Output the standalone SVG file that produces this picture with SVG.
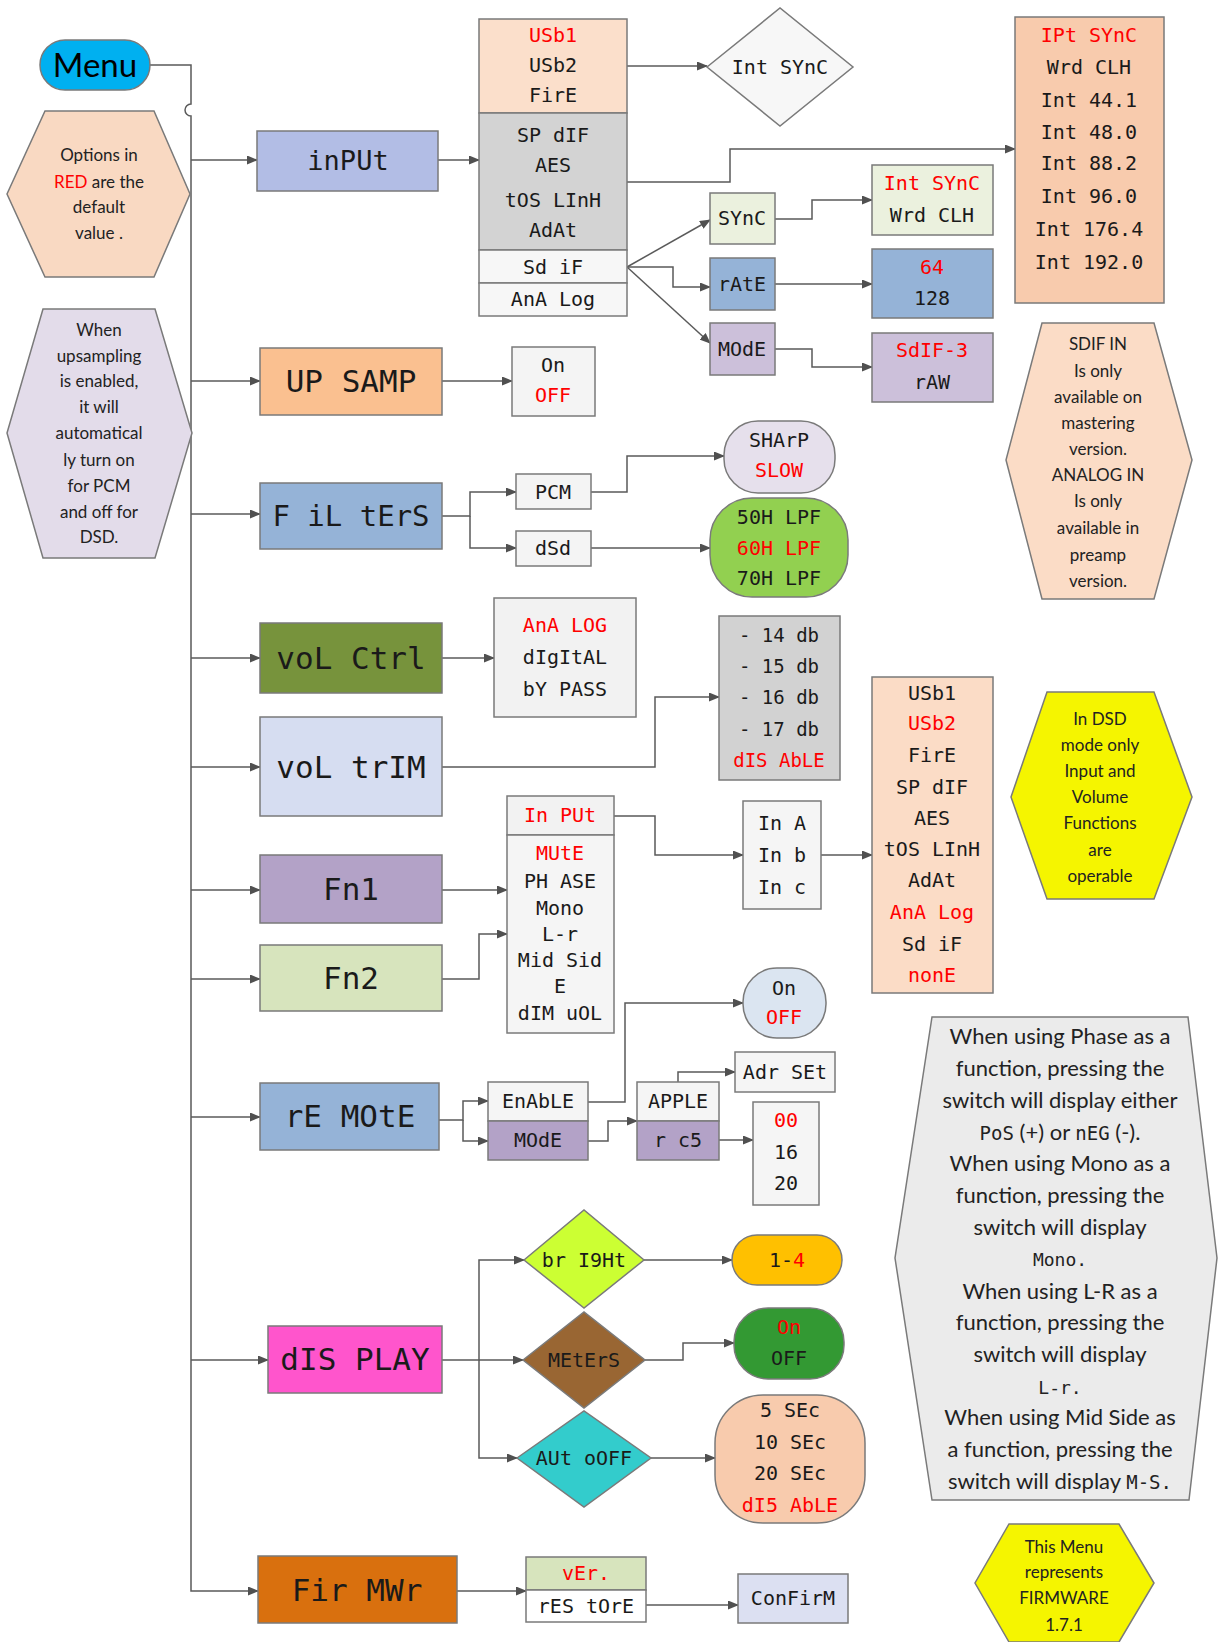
<svg xmlns="http://www.w3.org/2000/svg" width="1218" height="1642" viewBox="0 0 1218 1642">
<defs>
<marker id="ah" markerWidth="11" markerHeight="9" refX="10" refY="4.5" orient="auto" markerUnits="userSpaceOnUse"><path d="M0,0 L11,4.5 L0,9 z" fill="#505050"/></marker>
</defs>
<style>
.bx{stroke:#7a7a7a;stroke-width:1.5}
.ln{stroke:#5a5a5a;stroke-width:1.5;fill:none;marker-end:url(#ah)}
.s{font-family:"DejaVu Sans Mono",monospace;text-anchor:middle;fill:#1a1a1a}
.sm{font-size:20px}
.lg{font-size:31px}
.r{fill:#ff0000}
.n{font-family:Lato,"Open Sans",sans-serif;text-anchor:middle;fill:#222;font-size:17px}
.g{font-size:22px}
</style>
<rect width="1218" height="1642" fill="#fff"/>

<g id="connectors">
<path class="ln" d="M150,65 H191 V104 A6,6 0 0 0 191,116 V1591 H258"/>
<path class="ln" d="M191,160 H257"/>
<path class="ln" d="M191,381 H260"/>
<path class="ln" d="M191,514 H260"/>
<path class="ln" d="M191,658 H260"/>
<path class="ln" d="M191,767 H260"/>
<path class="ln" d="M191,890 H260"/>
<path class="ln" d="M191,979 H260"/>
<path class="ln" d="M191,1117 H260"/>
<path class="ln" d="M191,1360 H268"/>
<path class="ln" d="M438,160 H479"/>
<path class="ln" d="M627,66 H707"/>
<path class="ln" d="M627,182 H730 V149 H1015"/>
<path class="ln" d="M627,267 L710,220"/>
<path class="ln" d="M627,267 H673 V287 H710"/>
<path class="ln" d="M627,267 L710,343"/>
<path class="ln" d="M775,219 H812 V200 H872"/>
<path class="ln" d="M775,284 H872"/>
<path class="ln" d="M775,349 H812 V367 H872"/>
<path class="ln" d="M442,381 H512"/>
<path class="ln" d="M442,516 H470 V492 H516"/>
<path class="ln" d="M470,516 V548 H516"/>
<path class="ln" d="M591,492 H627 V456 H724"/>
<path class="ln" d="M591,548 H710"/>
<path class="ln" d="M442,658 H494"/>
<path class="ln" d="M442,767 H655 V697 H719"/>
<path class="ln" d="M442,890 H507"/>
<path class="ln" d="M442,979 H479 V934 H507"/>
<path class="ln" d="M614,816 H655 V855 H743"/>
<path class="ln" d="M821,855 H872"/>
<path class="ln" d="M439,1120 H463 V1101 H488"/>
<path class="ln" d="M463,1120 V1141 H488"/>
<path class="ln" d="M588,1102 H625 V1003 H743"/>
<path class="ln" d="M588,1141 H608 V1121 H637"/>
<path class="ln" d="M678,1082 V1072 H735"/>
<path class="ln" d="M719,1140 H753"/>
<path class="ln" d="M442,1360 H479 V1260 H524"/>
<path class="ln" d="M479,1360 H523"/>
<path class="ln" d="M479,1360 V1458 H517"/>
<path class="ln" d="M644,1260 H732"/>
<path class="ln" d="M645,1360 H683 V1343 H734"/>
<path class="ln" d="M651,1458 H715"/>
<path class="ln" d="M457,1591 H526"/>
<path class="ln" d="M646,1605 H738"/>
</g>

<g id="menu"><rect class="bx" x="40" y="40" width="110" height="50" rx="25" fill="#00b0f0"/><text x="95" y="77" font-family="Lato,'Open Sans',sans-serif" font-size="33" text-anchor="middle" fill="#000">Menu</text></g>

<g id="note-options"><polygon class="bx" points="45,111 154,111 190,194 154,277 45,277 7,194" fill="#f9d9c2"/>
<text class="n"><tspan x="99" y="161">Options in</tspan><tspan x="99" y="188"><tspan fill="#ff0000">RED</tspan> are the</tspan><tspan x="99" y="213">default</tspan><tspan x="99" y="239">value .</tspan></text></g>

<g id="note-upsampling"><polygon class="bx" points="43,309 155,309 192,433 155,558 43,558 7,433" fill="#e3dcea"/>
<text class="n"><tspan x="99" y="336">When</tspan><tspan x="99" y="362">upsampling</tspan><tspan x="99" y="387">is enabled,</tspan><tspan x="99" y="413">it will</tspan><tspan x="99" y="439">automatical</tspan><tspan x="99" y="466">ly turn on</tspan><tspan x="99" y="492">for PCM</tspan><tspan x="99" y="518">and off for</tspan><tspan x="99" y="543">DSD.</tspan></text></g>

<g id="input"><rect class="bx" x="257" y="131" width="181" height="60" fill="#b2bde5"/><text class="s" x="348" y="170" font-size="27">inPUt</text></g>

<g id="input-list">
<rect class="bx" x="479" y="19" width="148" height="94" fill="#fbdfcb"/>
<rect class="bx" x="479" y="113" width="148" height="137" fill="#d3d3d3"/>
<rect class="bx" x="479" y="250" width="148" height="33" fill="#f7f7f7"/>
<rect class="bx" x="479" y="283" width="148" height="33" fill="#f7f7f7"/>
<text class="s sm"><tspan class="r" x="553" y="42">USb1</tspan><tspan x="553" y="72">USb2</tspan><tspan x="553" y="102">FirE</tspan><tspan x="553" y="142">SP dIF</tspan><tspan x="553" y="172">AES</tspan><tspan x="553" y="207">tOS LInH</tspan><tspan x="553" y="237">AdAt</tspan><tspan x="553" y="274">Sd iF</tspan><tspan x="553" y="306">AnA Log</tspan></text>
</g>

<g id="int-sync-diamond"><polygon class="bx" points="707,67 780,8 853,67 780,126" fill="#f7f7f7"/><text class="s sm" x="780" y="74">Int SYnC</text></g>

<g id="sync-list"><rect class="bx" x="1015" y="17" width="149" height="286" fill="#f8cbad"/>
<text class="s sm"><tspan class="r" x="1089" y="42">IPt SYnC</tspan><tspan x="1089" y="74">Wrd CLH</tspan><tspan x="1089" y="107">Int 44.1</tspan><tspan x="1089" y="139">Int 48.0</tspan><tspan x="1089" y="170">Int 88.2</tspan><tspan x="1089" y="203">Int 96.0</tspan><tspan x="1089" y="236">Int 176.4</tspan><tspan x="1089" y="269">Int 192.0</tspan></text></g>

<g id="sync"><rect class="bx" x="710" y="193" width="65" height="51" fill="#ebf1de"/><text class="s sm" x="742" y="225">SYnC</text></g>
<g id="rate"><rect class="bx" x="710" y="258" width="65" height="52" fill="#95b3d7"/><text class="s sm" x="742" y="291">rAtE</text></g>
<g id="mode"><rect class="bx" x="710" y="323" width="65" height="52" fill="#ccc0da"/><text class="s sm" x="742" y="356">MOdE</text></g>

<g id="sync-opts"><rect class="bx" x="872" y="165" width="121" height="70" fill="#ebf1de"/><text class="s sm"><tspan class="r" x="932" y="190">Int SYnC</tspan><tspan x="932" y="222">Wrd CLH</tspan></text></g>
<g id="rate-opts"><rect class="bx" x="872" y="249" width="121" height="69" fill="#95b3d7"/><text class="s sm"><tspan class="r" x="932" y="274">64</tspan><tspan x="932" y="305">128</tspan></text></g>
<g id="mode-opts"><rect class="bx" x="872" y="333" width="121" height="69" fill="#ccc0da"/><text class="s sm"><tspan class="r" x="932" y="357">SdIF-3</tspan><tspan x="932" y="389">rAW</tspan></text></g>

<g id="note-sdif"><polygon class="bx" points="1042,323 1154,323 1192,460 1154,599 1042,599 1006,460" fill="#fbdcc6"/>
<text class="n"><tspan x="1098" y="350">SDIF IN</tspan><tspan x="1098" y="377">Is only</tspan><tspan x="1098" y="403">available on</tspan><tspan x="1098" y="429">mastering</tspan><tspan x="1098" y="455">version.</tspan><tspan x="1098" y="481">ANALOG IN</tspan><tspan x="1098" y="507">Is only</tspan><tspan x="1098" y="534">available in</tspan><tspan x="1098" y="561">preamp</tspan><tspan x="1098" y="587">version.</tspan></text></g>

<g id="upsamp"><rect class="bx" x="260" y="348" width="182" height="67" fill="#fac090"/><text class="s lg" x="351" y="392">UP SAMP</text></g>
<g id="upsamp-opts"><rect class="bx" x="512" y="347" width="83" height="69" fill="#f4f4f4"/><text class="s sm"><tspan x="553" y="372">On</tspan><tspan class="r" x="553" y="402">OFF</tspan></text></g>

<g id="filters"><rect class="bx" x="260" y="483" width="182" height="66" fill="#95b3d7"/><text class="s" font-size="29" x="351" y="526">F iL tErS</text></g>
<g id="pcm"><rect class="bx" x="516" y="474" width="75" height="35" fill="#f4f4f4"/><text class="s sm" x="553" y="499">PCM</text></g>
<g id="dsd"><rect class="bx" x="516" y="531" width="75" height="35" fill="#f4f4f4"/><text class="s sm" x="553" y="555">dSd</text></g>
<g id="pcm-opts"><rect class="bx" x="724" y="421" width="111" height="72" rx="34" fill="#e6e0ec"/><text class="s sm"><tspan x="779" y="447">SHArP</tspan><tspan class="r" x="779" y="477">SLOW</tspan></text></g>
<g id="dsd-opts"><rect class="bx" x="710" y="498" width="138" height="99" rx="42" fill="#92d050"/><text class="s sm"><tspan x="779" y="524">50H LPF</tspan><tspan class="r" x="779" y="555">60H LPF</tspan><tspan x="779" y="585">70H LPF</tspan></text></g>

<g id="vol-ctrl"><rect class="bx" x="260" y="623" width="182" height="70" fill="#77933c"/><text class="s lg" x="351" y="669">voL Ctrl</text></g>
<g id="vol-ctrl-opts"><rect class="bx" x="494" y="598" width="142" height="119" fill="#f2f2f2"/><text class="s sm"><tspan class="r" x="565" y="632">AnA LOG</tspan><tspan x="565" y="664">dIgItAL</tspan><tspan x="565" y="696">bY PASS</tspan></text></g>
<g id="vol-trim"><rect class="bx" x="260" y="717" width="182" height="99" fill="#d6ddf1"/><text class="s lg" x="351" y="778">voL trIM</text></g>
<g id="trim-opts"><rect class="bx" x="719" y="616" width="121" height="164" fill="#d2d2d2"/><text class="s" font-size="19"><tspan x="779" y="642">- 14 db</tspan><tspan x="779" y="673">- 15 db</tspan><tspan x="779" y="704">- 16 db</tspan><tspan x="779" y="736">- 17 db</tspan><tspan class="r" x="779" y="767">dIS AbLE</tspan></text></g>

<g id="fn1"><rect class="bx" x="260" y="855" width="182" height="68" fill="#b3a2c7"/><text class="s lg" x="351" y="900">Fn1</text></g>
<g id="fn2"><rect class="bx" x="260" y="945" width="182" height="66" fill="#d7e4bd"/><text class="s lg" x="351" y="989">Fn2</text></g>
<g id="fn-input"><rect class="bx" x="507" y="796" width="107" height="39" fill="#f2f2f2"/><text class="s sm r" x="560" y="822">In PUt</text></g>
<g id="fn-list"><rect class="bx" x="507" y="835" width="107" height="198" fill="#f5f5f5"/><text class="s sm"><tspan class="r" x="560" y="860">MUtE</tspan><tspan x="560" y="888">PH ASE</tspan><tspan x="560" y="915">Mono</tspan><tspan x="560" y="941">L-r</tspan><tspan x="560" y="967">Mid Sid</tspan><tspan x="560" y="993">E</tspan><tspan x="560" y="1020">dIM uOL</tspan></text></g>
<g id="fn-inputs"><rect class="bx" x="743" y="801" width="78" height="108" fill="#f5f5f5"/><text class="s sm"><tspan x="782" y="830">In A</tspan><tspan x="782" y="862">In b</tspan><tspan x="782" y="894">In c</tspan></text></g>
<g id="fn-input-list"><rect class="bx" x="872" y="677" width="121" height="316" fill="#fbdcc6"/><text class="s sm"><tspan x="932" y="700">USb1</tspan><tspan class="r" x="932" y="730">USb2</tspan><tspan x="932" y="762">FirE</tspan><tspan x="932" y="794">SP dIF</tspan><tspan x="932" y="825">AES</tspan><tspan x="932" y="856">tOS LInH</tspan><tspan x="932" y="887">AdAt</tspan><tspan class="r" x="932" y="919">AnA Log</tspan><tspan x="932" y="951">Sd iF</tspan><tspan class="r" x="932" y="982">nonE</tspan></text></g>

<g id="note-dsd"><polygon class="bx" points="1047,692 1154,692 1192,797 1154,899 1047,899 1011,797" fill="#f5f500"/>
<text class="n"><tspan x="1100" y="725">In DSD</tspan><tspan x="1100" y="751">mode only</tspan><tspan x="1100" y="777">Input and</tspan><tspan x="1100" y="803">Volume</tspan><tspan x="1100" y="829">Functions</tspan><tspan x="1100" y="856">are</tspan><tspan x="1100" y="882">operable</tspan></text></g>

<g id="remote"><rect class="bx" x="260" y="1083" width="179" height="67" fill="#95b3d7"/><text class="s lg" x="350" y="1127">rE MOtE</text></g>
<g id="enable"><rect class="bx" x="488" y="1082" width="100" height="39" fill="#f5f5f5"/><text class="s sm" x="538" y="1108">EnAbLE</text></g>
<g id="remote-mode"><rect class="bx" x="488" y="1121" width="100" height="39" fill="#b3a2c7"/><text class="s sm" x="538" y="1147">MOdE</text></g>
<g id="apple"><rect class="bx" x="637" y="1082" width="82" height="39" fill="#f5f5f5"/><text class="s sm" x="678" y="1108">APPLE</text></g>
<g id="rc5"><rect class="bx" x="637" y="1121" width="82" height="39" fill="#b3a2c7"/><text class="s sm" x="678" y="1147">r c5</text></g>
<g id="adr-set"><rect class="bx" x="735" y="1052" width="100" height="40" fill="#f5f5f5"/><text class="s sm" x="785" y="1079">Adr SEt</text></g>
<g id="rc5-opts"><rect class="bx" x="753" y="1102" width="66" height="103" fill="#f5f5f5"/><text class="s sm"><tspan class="r" x="786" y="1127">00</tspan><tspan x="786" y="1159">16</tspan><tspan x="786" y="1190">20</tspan></text></g>
<g id="enable-opts"><rect class="bx" x="743" y="968" width="83" height="70" rx="34" fill="#dbe5f1"/><text class="s sm"><tspan x="784" y="995">On</tspan><tspan class="r" x="784" y="1024">OFF</tspan></text></g>

<g id="note-functions"><polygon class="bx" points="932,1017 1188,1017 1217,1258 1189,1500 932,1500 895,1258" fill="#ebebeb"/>
<text class="n g"><tspan x="1060" y="1044">When using Phase as a</tspan><tspan x="1060" y="1076">function, pressing the</tspan><tspan x="1060" y="1108">switch will display either</tspan><tspan x="1060" y="1140"><tspan font-family="DejaVu Sans Mono,monospace" font-size="19">PoS</tspan> (+) or <tspan font-family="DejaVu Sans Mono,monospace" font-size="19">nEG</tspan>  (-).</tspan><tspan x="1060" y="1171">When using Mono as a</tspan><tspan x="1060" y="1203">function, pressing the</tspan><tspan x="1060" y="1235">switch will display</tspan><tspan x="1060" y="1266" font-family="DejaVu Sans Mono,monospace" font-size="18">Mono.</tspan><tspan x="1060" y="1299">When using L-R as a</tspan><tspan x="1060" y="1330">function, pressing the</tspan><tspan x="1060" y="1362">switch will display</tspan><tspan x="1060" y="1394" font-family="DejaVu Sans Mono,monospace" font-size="18">L-r.</tspan><tspan x="1060" y="1425">When using Mid Side as</tspan><tspan x="1060" y="1457">a function, pressing the</tspan><tspan x="1060" y="1489">switch will display <tspan font-family="DejaVu Sans Mono,monospace" font-size="19">M-S.</tspan></tspan></text></g>

<g id="display"><rect class="bx" x="268" y="1326" width="174" height="67" fill="#ff55cc"/><text class="s lg" x="355" y="1370">dIS PLAY</text></g>
<g id="bright"><polygon class="bx" points="524,1260 584,1210 644,1260 584,1308" fill="#ccff33"/><text class="s sm" x="584" y="1267">br I9Ht</text></g>
<g id="meters"><polygon class="bx" points="523,1360 584,1312 645,1360 584,1408" fill="#996633"/><text class="s sm" x="584" y="1367">MEtErS</text></g>
<g id="autooff"><polygon class="bx" points="517,1458 584,1411 651,1458 584,1507" fill="#33cccc"/><text class="s sm" x="584" y="1465">AUt oOFF</text></g>
<g id="bright-opts"><rect class="bx" x="732" y="1235" width="110" height="50" rx="25" fill="#ffc000"/><text class="s sm" x="787" y="1267">1-<tspan class="r">4</tspan></text></g>
<g id="meters-opts"><rect class="bx" x="734" y="1308" width="110" height="71" rx="34" fill="#339933"/><text class="s sm"><tspan class="r" x="789" y="1334">On</tspan><tspan x="789" y="1365">OFF</tspan></text></g>
<g id="autooff-opts"><rect class="bx" x="715" y="1395" width="150" height="128" rx="48" fill="#f8cbad"/><text class="s sm"><tspan x="790" y="1417">5 SEc</tspan><tspan x="790" y="1449">10 SEc</tspan><tspan x="790" y="1480">20 SEc</tspan><tspan class="r" x="790" y="1512">dI5 AbLE</tspan></text></g>

<g id="firmware"><rect class="bx" x="258" y="1556" width="199" height="67" fill="#d9700e"/><text class="s lg" x="357" y="1601">Fir MWr</text></g>
<g id="ver"><rect class="bx" x="526" y="1557" width="120" height="33" fill="#d7e4bd"/><text class="s sm r" x="586" y="1580">vEr.</text></g>
<g id="restore"><rect class="bx" x="526" y="1590" width="120" height="32" fill="#ffffff"/><text class="s sm" x="586" y="1613">rES tOrE</text></g>
<g id="confirm"><rect class="bx" x="738" y="1574" width="110" height="49" fill="#dce0f2"/><text class="s sm" x="793" y="1605">ConFirM</text></g>

<g id="note-firmware"><polygon class="bx" points="1009,1524 1119,1524 1154,1583 1119,1642 1009,1642 975,1583" fill="#f5f500"/>
<text class="n" font-size="16"><tspan x="1064" y="1553">This Menu</tspan><tspan x="1064" y="1578">represents</tspan><tspan x="1064" y="1604">FIRMWARE</tspan><tspan x="1064" y="1631">1.7.1</tspan></text></g>
</svg>
